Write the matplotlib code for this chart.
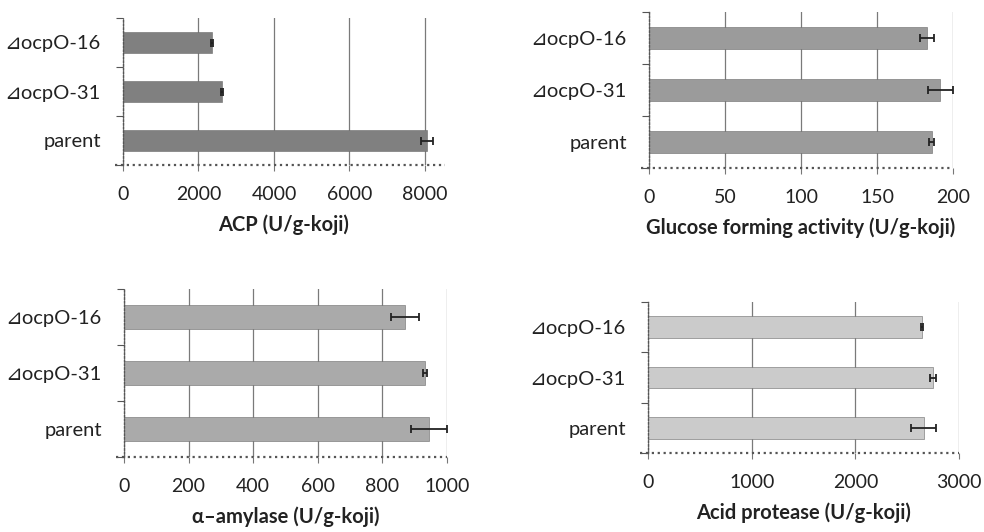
import matplotlib.pyplot as plt
import numpy as np

plt.rcParams['font.family'] = ['Lato', 'DejaVu Sans']

strains = ['parent', '⊿ocpO-31', '⊿ocpO-16']

acp = [8050, 2620, 2360]
acp_err = [160, 25, 25]

glucose = [186, 191.5, 183]
glucose_err = [1.8, 8.2, 4.6]

amylase = [944, 932, 870]
amylase_err = [56, 5, 44]

protease = [2660, 2748, 2642]
protease_err = [120, 32, 8]

panels = [
    # values, errors, ticks, xmax, colour, label, pixel box
    (acp, acp_err, [0, 2000, 4000, 6000, 8000], 8530, '#808080',
     'ACP (U/g-koji)', (123, 445, 18, 165)),
    (glucose, glucose_err, [0, 50, 100, 150, 200], 200, '#9b9b9b',
     'Glucose forming activity (U/g-koji)', (649, 953, 12, 168)),
    (amylase, amylase_err, [0, 200, 400, 600, 800, 1000], 1000, '#aaaaaa',
     'α–amylase (U/g-koji)', (124, 447, 289, 457)),
    (protease, protease_err, [0, 1000, 2000, 3000], 3000, '#cbcbcb',
     'Acid protease (U/g-koji)', (648, 959, 302, 453)),
]

W, H = 984, 532
fig = plt.figure(figsize=(W / 100, H / 100), dpi=100)

for vals, errs, ticks, xmax, col, label, (x0, x1, y0, y1) in panels:
    ax = fig.add_axes([x0 / W, (H - y1) / H, (x1 - x0) / W, (y1 - y0) / H])
    pos = np.arange(len(strains))
    ax.barh(pos, vals, height=0.43, color=col, edgecolor='#6a6a6a',
            linewidth=0.4, zorder=2)
    ax.errorbar(vals, pos, xerr=errs, fmt='none', ecolor='#222222',
                elinewidth=1.3, capsize=3, capthick=1.3, zorder=3)
    ax.set_xlim(0, xmax)
    ax.set_ylim(-0.5, 2.5)
    ax.set_xticks(ticks)
    ax.set_xticklabels([str(t) for t in ticks], fontsize=14, color='#222222')
    ax.set_yticks(pos)
    ax.set_yticklabels(strains, fontsize=14.5, color='#222222')
    ax.set_yticks([-0.5, 0.5, 1.5, 2.5], minor=True)
    ax.tick_params(axis='y', which='major', length=0, pad=16)
    ax.tick_params(axis='y', which='minor', length=5, width=0.8,
                   color='#555555', direction='out')
    ax.tick_params(axis='x', length=4, width=0.8, color='#777777', pad=11)
    ax.xaxis.grid(True, color='#7a7a7a', linewidth=0.9)
    ax.set_axisbelow(True)
    for s in ['top', 'right', 'bottom']:
        ax.spines[s].set_visible(False)
    ax.spines['left'].set_color('#555555')
    ax.spines['left'].set_linestyle(':')
    ax.spines['left'].set_linewidth(1.0)
    ax.axhline(-0.5, xmin=-0.025, xmax=1.0, color='#555555', linestyle=':',
               linewidth=1.6, clip_on=False, zorder=4)
    ax.set_xlabel(label, fontsize=14.5, fontweight='bold', color='#222222',
                  labelpad=8)

fig.savefig('out.png', dpi=100)
